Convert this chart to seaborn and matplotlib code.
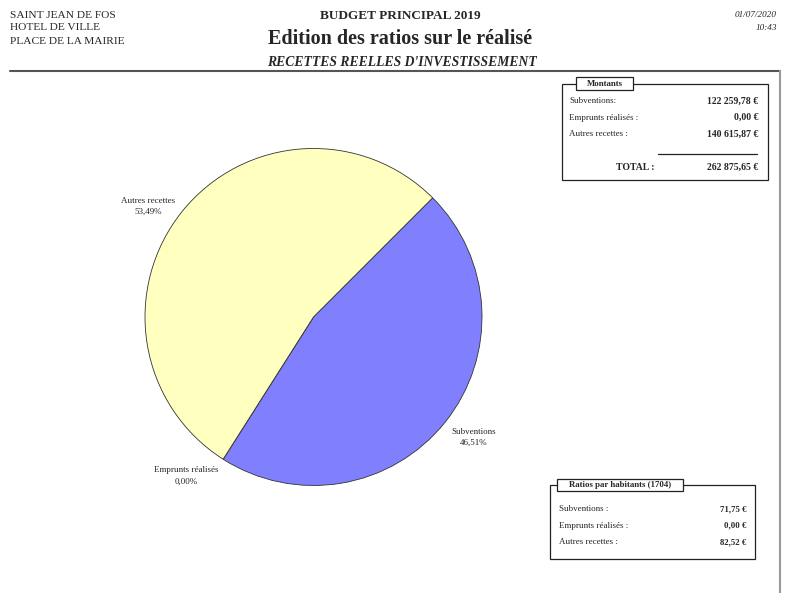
import matplotlib
matplotlib.use("Agg")
import matplotlib.pyplot as plt
import seaborn as sns
from matplotlib.patches import Rectangle

categories = ["Subventions", "Emprunts réalisés", "Autres recettes"]
montants = [122259.78, 0.00, 140615.87]
ratios = [71.75, 0.00, 82.52]
habitants = 1704
colors = ["#8080FF", "#FFFFFF", "#FFFFC0"]

header_left = ["SAINT JEAN DE FOS", "HOTEL DE VILLE", "PLACE DE LA MAIRIE"]
header_right = ["01/07/2020", "10:43"]
title_top = "BUDGET PRINCIPAL 2019"
title_main = "Edition des ratios sur le réalisé"
title_sub = "RECETTES REELLES D'INVESTISSEMENT"
montant_labels = ["Subventions:", "Emprunts réalisés :", "Autres recettes :"]
ratio_labels = ["Subventions :", "Emprunts réalisés :", "Autres recettes :"]


def fr(v, dec=2):
    s = f"{v:,.{dec}f}"
    return s.replace(",", " ").replace(".", ",")


sns.set_theme(style="white")
plt.rcParams["font.family"] = ["Liberation Serif", "DejaVu Serif"]

W, H = 794, 593
fig = plt.figure(figsize=(W / 100, H / 100), dpi=100)
fig.patch.set_facecolor("white")

# overlay in pixel coordinates
bg = fig.add_axes([0, 0, 1, 1])
bg.set_xlim(0, W)
bg.set_ylim(H, 0)
bg.axis("off")

for i, t in enumerate(header_left):
    bg.text(10, 15 + 13 * i, t, fontsize=8.2, ha="left", va="center")
for i, t in enumerate(header_right):
    bg.text(777, 15 + 13 * i, t, fontsize=6.6, ha="right", va="center", style="italic")
bg.text(400, 16, title_top, fontsize=9.5, fontweight="bold", ha="center", va="center")
bg.text(400, 39, title_main, fontsize=14.5, fontweight="bold", ha="center", va="center")
bg.text(402, 62, title_sub, fontsize=9.8, fontweight="bold", style="italic", ha="center", va="center")

bg.plot([10, 780], [71, 71], color="#555555", lw=1.5)
bg.plot([780, 780], [71, H], color="#999999", lw=1.5)

# Montants box
total = sum(montants)
bg.add_patch(Rectangle((562, 84), 206, 96, fill=False, ec="#222222", lw=0.9))
bg.add_patch(Rectangle((576, 77), 57, 13, fc="white", ec="#222222", lw=0.9))
bg.text(604.5, 84, "Montants", fontsize=6.3, fontweight="bold", ha="center", va="center")
for i, (lab, v) in enumerate(zip(montant_labels, montants)):
    y = 101 + 16.5 * i
    bg.text(569, y, lab, fontsize=6.5, ha="left", va="center")
    bg.text(758, y, fr(v) + " €", fontsize=7, fontweight="bold", ha="right", va="center")
bg.plot([658, 757], [154, 154], color="#222222", lw=0.9)
bg.text(635, 167, "TOTAL :", fontsize=7, fontweight="bold", ha="center", va="center")
bg.text(758, 167, fr(total) + " €", fontsize=7, fontweight="bold", ha="right", va="center")

# Ratios box
bg.add_patch(Rectangle((550, 485), 205, 74, fill=False, ec="#222222", lw=0.9))
bg.add_patch(Rectangle((557, 479), 126, 12, fc="white", ec="#222222", lw=0.9))
bg.text(620, 485, f"Ratios par habitants ({habitants})", fontsize=6.3, fontweight="bold",
        ha="center", va="center")
for i, (lab, v) in enumerate(zip(ratio_labels, ratios)):
    y = 509 + 16.5 * i
    bg.text(559, y, lab, fontsize=6.5, ha="left", va="center")
    bg.text(746, y, fr(v) + " €", fontsize=6.3, fontweight="bold", ha="right", va="center")

# pie
cx, cy, r = 313.5, 317, 168.5
ax = fig.add_axes([(cx - r) / W, (H - cy - r) / H, 2 * r / W, 2 * r / H])
pct = [100 * v / total for v in montants]
labels = [f"{c}\n{fr(p)}%" for c, p in zip(categories, pct)]
wedges, texts = ax.pie(montants, colors=colors, startangle=45, counterclock=False,
                       labels=labels, labeldistance=1.05,
                       wedgeprops=dict(edgecolor="#333333", linewidth=0.6),
                       textprops=dict(fontsize=6.5, multialignment="center", linespacing=1.5))
for t in texts:
    if t.get_position()[1] < 0:
        t.set_va("top")
ax.set_xlim(-1, 1)
ax.set_ylim(-1, 1)
ax.set_aspect("equal")

fig.savefig("out.png", dpi=100)
